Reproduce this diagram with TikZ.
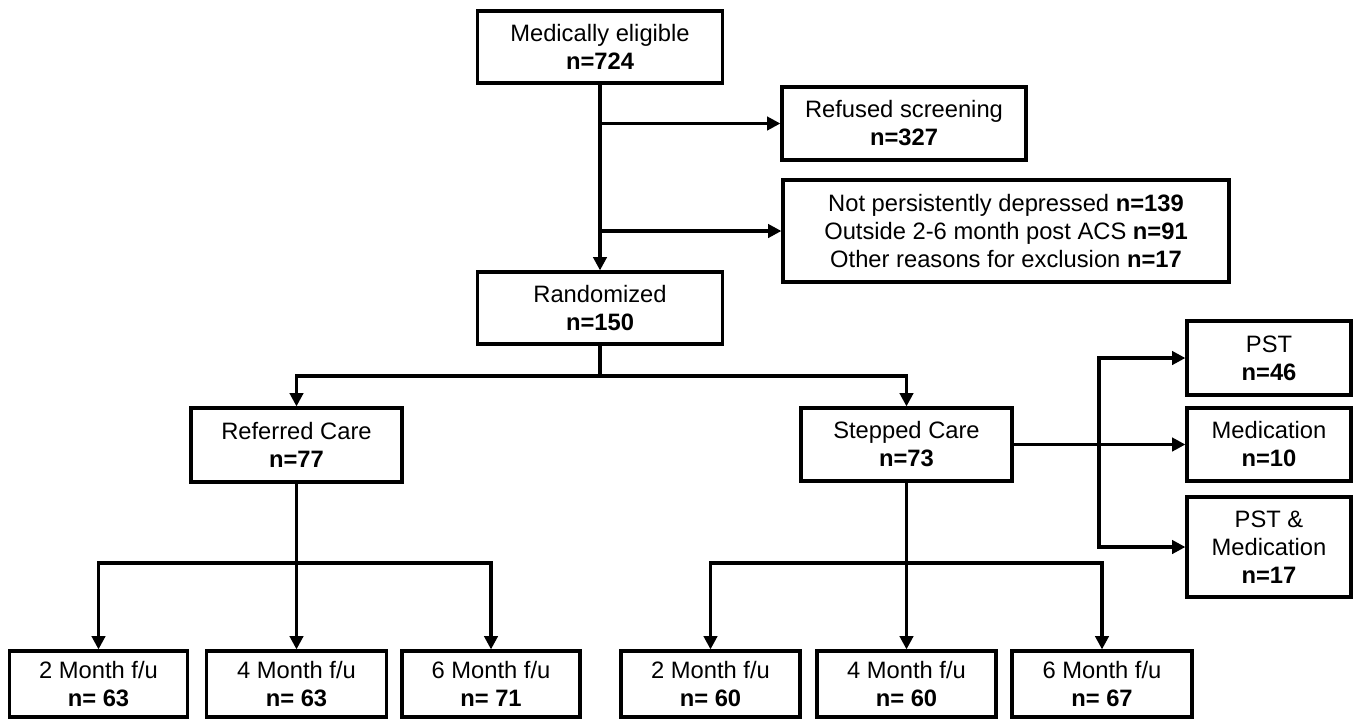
\documentclass[tikz,border=0pt]{standalone}
\usepackage{fontspec}
\setmainfont{Liberation Sans}
\usetikzlibrary{arrows.meta}
\tikzset{
  bx/.style 2 args={draw, line width=2.4pt, rectangle, inner sep=0pt, align=center,
     minimum width=#1*0.75pt, minimum height=#2*0.75pt,
     font=\fontsize{17.8}{21}\selectfont},
  conn/.style={line width=2.4pt},
  arr/.style={line width=2.4pt, -{Triangle[length=10pt,width=10pt]}},
  barr/.style={line width=2.4pt, {Triangle[length=10pt,width=10pt]}-{Triangle[length=10pt,width=10pt]}}
}
\begin{document}
\begin{tikzpicture}[x=0.75pt,y=-0.75pt]
\useasboundingbox (0,0) rectangle (1356,719);
\fill[white] (0,0) rectangle (1356,719);
% nodes
\node[bx={245}{72}] (med) at (600,47) {Medically eligible\\\textbf{n=724}};
\node[bx={244}{73}] (ref) at (904,123.5) {Refused screening\\\textbf{n=327}};
\node[bx={446}{102}] (excl) at (1006,231) {Not persistently depressed \textbf{n=139}\\Outside 2-6 month post ACS \textbf{n=91}\\Other reasons for exclusion \textbf{n=17}};
\node[bx={245}{72}] (rand) at (600,308) {Randomized\\\textbf{n=150}};
\node[bx={211}{74}] (rc) at (296.5,445) {Referred Care\\\textbf{n=77}};
\node[bx={211}{73}] (sc) at (906.5,444.5) {Stepped Care\\\textbf{n=73}};
\node[bx={164}{74}] (pst) at (1269,358) {PST\\\textbf{n=46}};
\node[bx={164}{73}] (medn) at (1269,444.5) {Medication\\\textbf{n=10}};
\node[bx={164}{100}] (both) at (1269,547) {PST \&\\Medication\\\textbf{n=17}};
\node[bx={178}{66}] (l1) at (98.5,684) {2 Month f/u\\\textbf{n= 63}};
\node[bx={180}{66}] (l2) at (296.5,684) {4 Month f/u\\\textbf{n= 63}};
\node[bx={178}{66}] (l3) at (491,684) {6 Month f/u\\\textbf{n= 71}};
\node[bx={179}{66}] (r1) at (710.5,684) {2 Month f/u\\\textbf{n= 60}};
\node[bx={179}{66}] (r2) at (906.5,684) {4 Month f/u\\\textbf{n= 60}};
\node[bx={180}{66}] (r3) at (1102,684) {6 Month f/u\\\textbf{n= 67}};
% helper coordinates
\coordinate (b1) at (600,376);
\coordinate (vx) at (1099,444.5);
\coordinate (b2) at (296.5,563);
\coordinate (b3) at (906.5,563);
% connectors
\draw[arr] (med.south) -- (rand.north);
\draw[arr] (med.south |- ref.west) -- (ref.west);
\draw[arr] (med.south |- excl.west) -- (excl.west);
\draw[conn] (rand.south) -- (b1);
\draw[arr] (b1) -| (rc.north);
\draw[arr] (b1) -| (sc.north);
\draw[arr] (sc.east) -- (medn.west);
\draw[barr] (pst.west) -| (vx) |- (both.west);
\draw[conn] (rc.south) -- (b2);
\draw[arr] (b2) -- (l2.north);
\draw[arr] (b2) -| (l1.north);
\draw[arr] (b2) -| (l3.north);
\draw[conn] (sc.south) -- (b3);
\draw[arr] (b3) -- (r2.north);
\draw[arr] (b3) -| (r1.north);
\draw[arr] (b3) -| (r3.north);
\end{tikzpicture}
\end{document}
